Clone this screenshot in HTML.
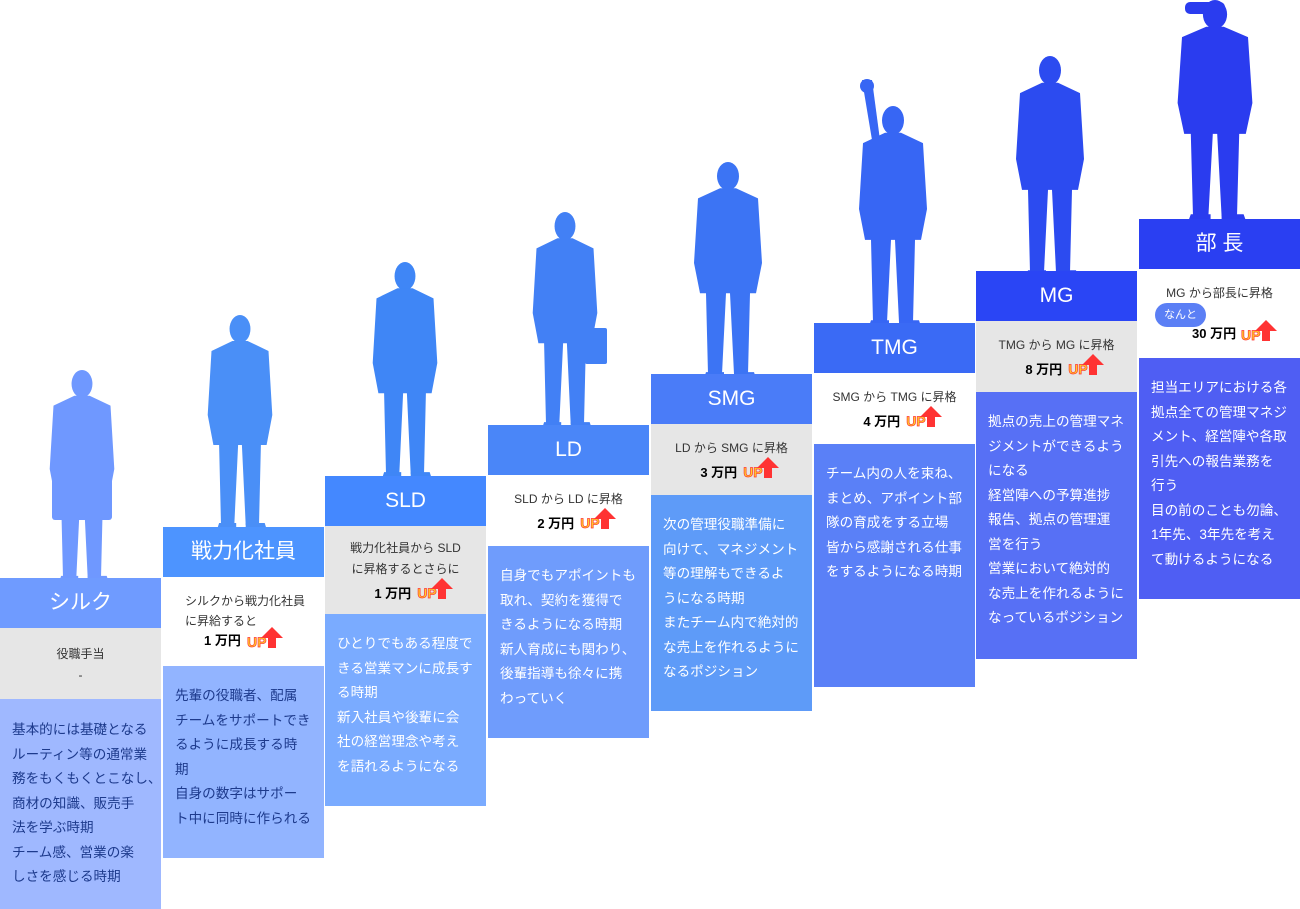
<!DOCTYPE html>
<html><head><meta charset="utf-8"><style>
body{margin:0;width:1300px;height:909px;background:#fff;position:relative;overflow:hidden;font-family:"Liberation Sans","Noto Sans CJK JP",sans-serif}
.c{position:absolute;width:161px}
.t{height:50px;color:#fff;font-size:21px;text-align:center;line-height:50px}
.i{text-align:center;font-size:12px;color:#333;line-height:21px;padding-top:14px;box-sizing:border-box}
.i b{font-size:13px;color:#000;display:inline-block;margin-top:3px}
.up{display:inline-block;position:relative;color:#ffd12a;font-weight:bold;font-size:14px;-webkit-text-stroke:0.7px #f33;margin-left:6px;line-height:14px}
.up:after{content:"";position:absolute;left:14px;top:-8px;border-left:11px solid transparent;border-right:11px solid transparent;border-bottom:11px solid #f33}
.up:before{content:"";position:absolute;left:21px;top:2px;width:8px;height:11px;background:#f33}
.d{font-size:13.6px;line-height:24.5px;padding:18px 2px 0 12px;box-sizing:border-box;white-space:nowrap;overflow:hidden}
.p{position:absolute}
</style></head><body>
<svg class="p" style="left:0;top:0" width="1300" height="909">
<defs><g id="m"><ellipse cx="0" cy="14" rx="11" ry="14"/><path d="M-8 26 L8 26 L30 36 L34 100 L28 130 L22 130 L20 210 L6 210 L2 130 L-2 130 L-6 210 L-20 210 L-22 130 L-28 130 L-34 100 L-30 36Z"/><path d="M-22 208 L-4 208 L-4 214 L-24 214Z M6 208 L26 208 L28 214 L6 214Z"/></g></defs>
<use href="#m" transform="translate(82,370) scale(0.95,0.99)" fill="#6f98ff"/>
<rect x="52" y="478" width="60" height="42" rx="3" fill="#6f98ff"/>
<use href="#m" transform="translate(240,315) scale(0.95,1)" fill="#4a8ff7"/>
<use href="#m" transform="translate(405,262) scale(0.95,1.01)" fill="#3f86f6"/>
<use href="#m" transform="translate(565,212) scale(0.95,1.01)" fill="#4280f5"/>
<rect x="585" y="328" width="22" height="36" rx="2" fill="#4280f5"/>
<use href="#m" transform="translate(728,162) scale(1,1.01)" fill="#3c74f4"/>
<use href="#m" transform="translate(893,106) scale(1,1.03)" fill="#3766f4"/>
<path d="M862 80 L872 80 L880 140 L872 140Z" fill="#3766f4"/><circle cx="867" cy="86" r="7" fill="#3766f4"/>
<use href="#m" transform="translate(1050,56) scale(1,1.03)" fill="#2c4bf0"/>
<use href="#m" transform="translate(1215,0) scale(1.1,1.03)" fill="#2a3cef"/>
<rect x="1185" y="2" width="40" height="12" rx="5" fill="#2a3cef"/>
</svg>

<div class="c" style="left:0;top:578px"><div class="t" style="background:#6f9bff">シルク</div><div class="i" style="height:71px;background:#e6e6e6;padding-top:16px">役職手当<br>-</div><div class="d" style="height:210px;background:#9fb8ff;color:#1d3a8c;padding-top:19px">基本的には基礎となる<br>ルーティン等の通常業<br>務をもくもくとこなし、<br>商材の知識、販売手<br>法を学ぶ時期<br>チーム感、営業の楽<br>しさを感じる時期</div></div>

<div class="c" style="left:163px;top:527px"><div class="t" style="background:#4d94ff">戦力化社員</div><div class="i" style="height:89px;background:#fff;position:relative"><span style="position:absolute;left:22px;top:14px;line-height:20px;text-align:left">シルクから戦力化社員<br>に昇給すると</span><b style="position:absolute;left:41px;top:53px;margin:0">1 万円</b><span class="up" style="position:absolute;left:84px;top:58px;margin:0">UP</span></div><div class="d" style="height:192px;background:#92b4ff;color:#1d3a8c">先輩の役職者、配属<br>チームをサポートでき<br>るように成長する時<br>期<br>自身の数字はサポー<br>ト中に同時に作られる</div></div>

<div class="c" style="left:325px;top:476px"><div class="t" style="background:#4488ff">SLD</div><div class="i" style="height:88px;background:#e6e6e6;padding-top:12px">戦力化社員から SLD<br>に昇格するとさらに<br><b>1 万円</b><span class="up">UP</span></div><div class="d" style="height:192px;background:#7aabff;color:#fff">ひとりでもある程度で<br>きる営業マンに成長す<br>る時期<br>新入社員や後輩に会<br>社の経営理念や考え<br>を語れるようになる</div></div>

<div class="c" style="left:488px;top:425px"><div class="t" style="background:#4a86f8">LD</div><div class="i" style="height:71px;background:#fff">SLD から LD に昇格<br><b>2 万円</b><span class="up">UP</span></div><div class="d" style="height:192px;background:#6f9cfc;color:#fff">自身でもアポイントも<br>取れ、契約を獲得で<br>きるようになる時期<br>新人育成にも関わり、<br>後輩指導も徐々に携<br>わっていく</div></div>

<div class="c" style="left:651px;top:374px"><div class="t" style="background:#4a7cf8">SMG</div><div class="i" style="height:71px;background:#e6e6e6">LD から SMG に昇格<br><b>3 万円</b><span class="up">UP</span></div><div class="d" style="height:216px;background:#5e9bf8;color:#fff">次の管理役職準備に<br>向けて、マネジメント<br>等の理解もできるよ<br>うになる時期<br>またチーム内で絶対的<br>な売上を作れるように<br>なるポジション</div></div>

<div class="c" style="left:814px;top:323px"><div class="t" style="background:#3a6af5">TMG</div><div class="i" style="height:71px;background:#fff">SMG から TMG に昇格<br><b>4 万円</b><span class="up">UP</span></div><div class="d" style="height:243px;background:#5a80f7;color:#fff">チーム内の人を束ね、<br>まとめ、アポイント部<br>隊の育成をする立場<br>皆から感謝される仕事<br>をするようになる時期</div></div>

<div class="c" style="left:976px;top:271px"><div class="t" style="background:#2a45f5">MG</div><div class="i" style="height:71px;background:#e6e6e6">TMG から MG に昇格<br><b>8 万円</b><span class="up">UP</span></div><div class="d" style="height:267px;background:#5770f5;color:#fff">拠点の売上の管理マネ<br>ジメントができるよう<br>になる<br>経営陣への予算進捗<br>報告、拠点の管理運<br>営を行う<br>営業において絶対的<br>な売上を作れるように<br>なっているポジション</div></div>

<div class="c" style="left:1139px;top:219px"><div class="t" style="background:#2a3ff2">部 長</div><div class="i" style="height:89px;background:#fff;position:relative">MG から部長に昇格<br><span style="position:absolute;left:16px;top:34px;background:#5b7ff5;color:#fff;font-size:11px;border-radius:14px;padding:0 9px;line-height:24px">なんと</span><b style="position:absolute;left:53px;top:54px;margin:0">30 万円</b><span class="up" style="position:absolute;left:102px;top:59px;margin:0">UP</span></div><div class="d" style="height:241px;background:#4f5ef3;color:#fff">担当エリアにおける各<br>拠点全ての管理マネジ<br>メント、経営陣や各取<br>引先への報告業務を<br>行う<br>目の前のことも勿論、<br>1年先、3年先を考え<br>て動けるようになる</div></div>
</body></html>
